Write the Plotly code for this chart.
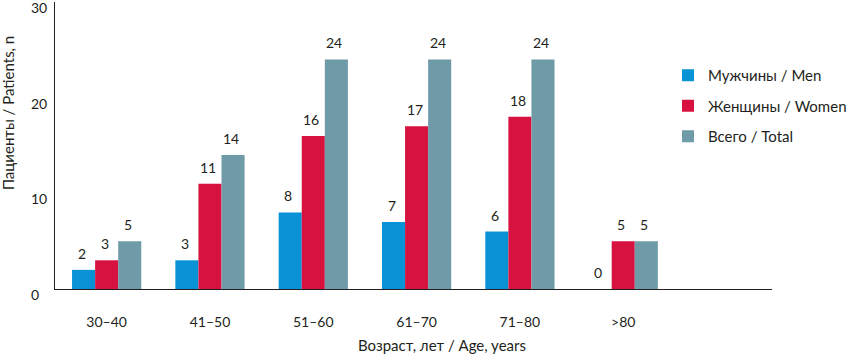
import plotly.graph_objects as go

categories = ["30–40", "41–50", "51–60", "61–70", "71–80", ">80"]
men = [2, 3, 8, 7, 6, 0]
women = [3, 11, 16, 17, 18, 5]
total = [5, 14, 24, 24, 24, 5]
series_names = ["Мужчины / Men", "Женщины / Women", "Всего / Total"]
colors = ["#0A92D6", "#D8123F", "#6F9AA8"]
y_ticks = [0, 10, 20, 30]

W, H = 851, 354
ml, mr, mt, mb = 55, 79, 2, 65
x_range = [-0.5, 6.44]
bargap = 0.33
font = "Lato, 'Open Sans', sans-serif"
txt = "#231f20"

fig = go.Figure()
for i, (name, vals, col) in enumerate(zip(series_names, [men, women, total], colors)):
    fig.add_trace(go.Bar(
        x=categories, y=vals, name=name, marker=dict(color=col, line=dict(width=0)),
        legendgroup=f"g{i}",
    ))

plot_w = W - ml - mr
plot_h = H - mt - mb
base_y = H - mb
cat_px = plot_w / (x_range[1] - x_range[0])
bar_px = cat_px * (1 - bargap) / 3

annotations = []
for i, vals in enumerate([men, women, total]):
    for c, v in zip(categories, vals):
        annotations.append(dict(
            x=c, y=v, xref="x", yref="y", text=str(v), showarrow=False,
            xshift=(i - 1) * bar_px - 2, yshift=6, yanchor="bottom",
            font=dict(family=font, size=14, color=txt),
        ))

annotations.append(dict(
    x=(442 - ml) / plot_w, y=(base_y - 345) / plot_h, xref="paper", yref="paper",
    text="Возраст, лет / Age, years",
    showarrow=False, yanchor="middle", xanchor="center",
    font=dict(family=font, size=15, color=txt),
))
annotations.append(dict(
    x=(8 - ml) / plot_w, y=(base_y - 113) / plot_h, xref="paper", yref="paper",
    text="Пациенты / Patients, n",
    showarrow=False, textangle=-90, yanchor="middle", xanchor="center",
    font=dict(family=font, size=15, color=txt),
))

fig.update_layout(
    width=W, height=H,
    margin=dict(l=ml, r=mr, t=mt, b=mb, autoexpand=False),
    paper_bgcolor="white", plot_bgcolor="white",
    barmode="group", bargap=bargap, bargroupgap=0,
    font=dict(family=font, size=14, color=txt),
    showlegend=True,
    legend=dict(
        xref="container", yref="container",
        x=668 / W, y=(H - 59) / H, xanchor="left", yanchor="top",
        font=dict(family=font, size=15, color=txt),
        tracegroupgap=8, bgcolor="rgba(0,0,0,0)",
    ),
    annotations=annotations,
    xaxis=dict(
        type="category", range=x_range, showline=True, linecolor=txt, linewidth=1,
        showgrid=False, zeroline=False, ticks="outside", ticklen=20,
        tickcolor="rgba(0,0,0,0)", tickfont=dict(family=font, size=14, color=txt),
    ),
    yaxis=dict(
        range=[0, 30], showline=True, linecolor=txt, linewidth=1,
        showgrid=False, zeroline=False, tickvals=y_ticks,
        ticktext=[("0\u2007" if t == 0 else str(t)) for t in y_ticks],
        ticks="outside", ticklen=4, tickcolor="rgba(0,0,0,0)",
        ticklabeloverflow="allow", ticklabelshift=6,
        tickfont=dict(family=font, size=14, color=txt),
    ),
)

fig.write_html("out.html", config={"displayModeBar": False},
               post_script="document.body.style.margin='0';")
